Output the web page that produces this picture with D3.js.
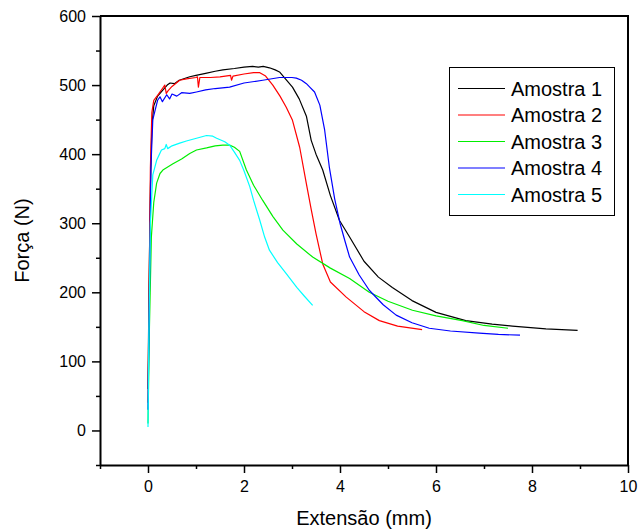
<!DOCTYPE html>
<html>
<head>
<meta charset="utf-8">
<script src="https://cdn.jsdelivr.net/npm/d3@7"></script>
<style>
  html, body { margin: 0; padding: 0; background: #fff; }
  text { font-family: "Liberation Sans", Arial, sans-serif; fill: #000; }
</style>
</head>
<body>
<svg id="chart" width="640" height="531"></svg>
<script>
// ---- Data ----
const seriesNames = ["Amostra 1", "Amostra 2", "Amostra 3", "Amostra 4", "Amostra 5"];
const seriesColors = ["#000000", "#ff0000", "#00ee00", "#0000ff", "#00ffff"];

const amostra1 = [
  [0.0, 60], [0.02, 200], [0.05, 350], [0.08, 440], [0.12, 470], [0.2, 484], [0.3, 492], [0.4, 500],
  [0.46, 503], [0.55, 502], [0.65, 507], [0.87, 512], [1.0, 514], [1.2, 517], [1.4, 520], [1.56, 522],
  [1.8, 524], [2.0, 526], [2.18, 527], [2.3, 526], [2.4, 527], [2.53, 525], [2.65, 522], [2.74, 519],
  [2.85, 510], [3.01, 497], [3.15, 480], [3.3, 455], [3.4, 420], [3.5, 400], [3.64, 377], [3.8, 340],
  [3.99, 304], [4.2, 280], [4.5, 245], [4.8, 222], [5.09, 207], [5.5, 188], [6.0, 171], [6.62, 159],
  [7.17, 154], [7.59, 151], [8.29, 147], [8.95, 145]
];
const amostra2 = [
  [0.0, 40], [0.02, 180], [0.05, 380], [0.08, 460], [0.12, 478], [0.2, 485], [0.3, 495], [0.35, 500],
  [0.38, 488], [0.42, 492], [0.5, 498], [0.66, 507], [0.8, 509], [1.0, 511], [1.03, 512], [1.05, 497],
  [1.08, 511], [1.3, 511], [1.5, 512], [1.72, 514], [1.74, 507], [1.77, 513], [2.0, 516], [2.2, 518],
  [2.33, 518], [2.45, 513], [2.6, 500], [2.75, 484], [2.88, 468], [3.01, 449], [3.16, 410], [3.3, 357],
  [3.4, 320], [3.5, 285], [3.64, 241], [3.8, 215], [4.13, 193], [4.5, 172], [4.82, 159], [5.2, 151],
  [5.71, 146]
];
const amostra3 = [
  [0.0, 10], [0.03, 150], [0.07, 280], [0.12, 330], [0.18, 358], [0.25, 372], [0.31, 377], [0.52, 386],
  [0.7, 393], [0.87, 401], [1.01, 406], [1.22, 409], [1.4, 412], [1.56, 413], [1.7, 413], [1.8, 410],
  [1.91, 404], [2.05, 377], [2.2, 355], [2.39, 333], [2.6, 310], [2.81, 290], [3.1, 270], [3.43, 251],
  [3.8, 235], [4.2, 220], [4.61, 200], [5.0, 187], [5.51, 174], [6.0, 166], [6.55, 159], [7.0, 152],
  [7.5, 148]
];
const amostra4 = [
  [0.0, 30], [0.03, 200], [0.06, 380], [0.1, 450], [0.15, 464], [0.2, 478], [0.25, 483], [0.3, 476],
  [0.39, 486], [0.45, 480], [0.5, 487], [0.6, 484], [0.7, 489], [0.87, 488], [1.01, 490], [1.2, 493],
  [1.4, 495], [1.7, 497], [2.0, 503], [2.39, 507], [2.74, 511], [3.0, 511], [3.09, 510], [3.2, 507],
  [3.3, 502], [3.37, 497], [3.47, 490], [3.58, 471], [3.68, 435], [3.78, 380], [3.89, 335], [4.0, 300],
  [4.1, 275], [4.2, 251], [4.4, 225], [4.61, 203], [4.9, 182], [5.17, 167], [5.5, 156], [5.86, 148],
  [6.3, 144], [6.9, 141], [7.3, 139], [7.75, 138]
];
const amostra5 = [
  [0.0, 5], [0.02, 150], [0.05, 300], [0.1, 370], [0.18, 391], [0.28, 406], [0.35, 408], [0.38, 414],
  [0.41, 408], [0.5, 412], [0.66, 416], [0.8, 419], [1.01, 423], [1.22, 427], [1.35, 426], [1.43, 423],
  [1.6, 418], [1.7, 413], [1.8, 403], [1.91, 391], [2.0, 376], [2.12, 353], [2.2, 333], [2.33, 304],
  [2.43, 280], [2.53, 261], [2.7, 243], [2.88, 227], [3.1, 207], [3.25, 195], [3.43, 181]
];
const seriesData = [amostra1, amostra2, amostra3, amostra4, amostra5];

const xMajorTicks = [0, 2, 4, 6, 8, 10];
const xMinorTicks = [-1, 1, 3, 5, 7, 9];
const yMajorTicks = [0, 100, 200, 300, 400, 500, 600];
const yMinorTicks = [-50, 50, 150, 250, 350, 450, 550];
const xTitle = "Extensão (mm)";
const yTitle = "Força (N)";

// ---- Layout ----
const svg = d3.select("#chart");
const mLeft = 100, mRight = 628, mTop = 16, mBottom = 465;

const x = d3.scaleLinear().domain([-1, 10]).range([mLeft, mRight]);
const y = d3.scaleLinear().domain([-50, 600]).range([mBottom, mTop]);

// curves
const line = d3.line().x(d => x(d[0])).y(d => y(d[1]));
const curves = svg.append("g");
seriesData.forEach((data, i) => {
  curves.append("path")
    .datum(data)
    .attr("d", line)
    .attr("fill", "none")
    .attr("stroke", seriesColors[i])
    .attr("stroke-width", 1.2)
    .attr("stroke-linejoin", "round");
});

// frame (top and right)
svg.append("line").attr("x1", mLeft).attr("x2", mRight + 1).attr("y1", mTop).attr("y2", mTop)
  .attr("stroke", "#000").attr("stroke-width", 2);
svg.append("line").attr("x1", mRight).attr("x2", mRight).attr("y1", mTop).attr("y2", mBottom)
  .attr("stroke", "#000").attr("stroke-width", 2);

// x axis
svg.append("g").attr("transform", `translate(0,${mBottom})`)
  .call(d3.axisBottom(x).tickValues(xMajorTicks).tickSize(8).tickSizeOuter(0).tickPadding(8).tickFormat(d3.format("d")));
svg.append("g").attr("transform", `translate(0,${mBottom})`)
  .call(d3.axisBottom(x).tickValues(xMinorTicks).tickSize(4).tickSizeOuter(0).tickFormat(""))
  .select(".domain").remove();

// y axis
svg.append("g").attr("transform", `translate(${mLeft},0)`)
  .call(d3.axisLeft(y).tickValues(yMajorTicks).tickSize(8).tickSizeOuter(0).tickPadding(6).tickFormat(d3.format("d")));
svg.append("g").attr("transform", `translate(${mLeft},0)`)
  .call(d3.axisLeft(y).tickValues(yMinorTicks).tickSize(4).tickSizeOuter(0).tickFormat(""))
  .select(".domain").remove();

svg.selectAll(".domain").attr("stroke", "#000").attr("stroke-width", 2);
svg.selectAll(".tick line").attr("stroke", "#000").attr("stroke-width", 1.5);
svg.selectAll(".tick text").style("font-family", '"Liberation Sans", Arial, sans-serif')
  .style("font-size", "16px").attr("fill", "#000");

// axis titles
svg.append("text").attr("x", (mLeft + mRight) / 2).attr("y", 525)
  .attr("text-anchor", "middle").style("font-size", "20px").text(xTitle);
svg.append("text").attr("transform", `translate(28.5,${(mTop + mBottom) / 2}) rotate(-90)`)
  .attr("text-anchor", "middle").style("font-size", "20px").text(yTitle);

// legend
const lg = svg.append("g");
lg.append("rect").attr("x", 449.5).attr("y", 67.5).attr("width", 165).attr("height", 148)
  .attr("fill", "#fff").attr("stroke", "#000").attr("stroke-width", 1);
seriesNames.forEach((name, i) => {
  const ly = 88.5 + i * 26.5;
  lg.append("line").attr("x1", 458).attr("x2", 505).attr("y1", ly).attr("y2", ly)
    .attr("stroke", seriesColors[i]).attr("stroke-width", 1.2);
  lg.append("text").attr("x", 511).attr("y", ly).attr("dy", "0.35em")
    .style("font-size", "20px").text(name);
});
</script>
</body>
</html>
